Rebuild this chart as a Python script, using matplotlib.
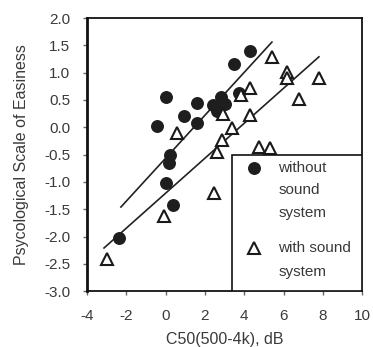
#!/usr/bin/env python3

from matplotlib import pyplot as pl
from matplotlib.patches import Rectangle

pl.rcParams['font.family'] = ['Liberation Sans', 'DejaVu Sans']

# without sound system (filled circles)
c50_without = [0.0, -0.45, 0.95, 1.6, 1.6, 0.25, 0.2, 0.0, 0.4, -2.35,
               2.4, 2.8, 3.0, 2.6, 3.75, 3.5, 4.3]
pse_without = [0.55, 0.02, 0.2, 0.45, 0.08, -0.5, -0.65, -1.02, -1.42, -2.03,
               0.4, 0.55, 0.42, 0.3, 0.62, 1.15, 1.4]

# with sound system (open triangles)
c50_with = [-3.0, -0.1, 2.45, 0.6, 2.85, 2.6, 2.9, 3.4, 4.3, 3.85, 4.3,
            5.4, 6.2, 6.2, 7.8, 6.8, 4.75, 5.3]
pse_with = [-2.42, -1.62, -1.2, -0.1, -0.23, -0.45, 0.25, -0.02, 0.22, 0.6, 0.72,
            1.28, 1.02, 0.9, 0.9, 0.52, -0.37, -0.38]

# regression lines (end points)
fit_without_x = [-2.27, 5.41]
fit_without_y = [-1.46, 1.56]
fit_with_x = [-3.13, 7.8]
fit_with_y = [-2.21, 1.29]

xticks = [-4, -2, 0, 2, 4, 6, 8, 10]
yticks = [-3.0, -2.5, -2.0, -1.5, -1.0, -0.5, 0.0, 0.5, 1.0, 1.5, 2.0]

legend_lines = [['without', 'sound', 'system'], ['with sound', 'system']]

txt = '#3a3a3a'
fs = 11.5

fig = pl.figure(figsize=(3.73, 3.47), dpi=100)
ax = fig.add_axes([0.233, 0.161, 0.738, 0.787])

ax.plot(fit_without_x, fit_without_y, color='#222222', lw=1.2, zorder=2)
ax.plot(fit_with_x, fit_with_y, color='#222222', lw=1.2, zorder=2)

circ = dict(marker='o', ls='none', color='#1e1e1e', ms=8.3)
tri = dict(marker='^', ls='none', mfc='white', mec='#1a1a1a', mew=1.5, ms=8)

ax.plot(c50_without, pse_without, zorder=3, **circ)
ax.plot(c50_with, pse_with, zorder=4, **tri)

ax.set_xlim(-4, 10)
ax.set_ylim(-3, 2)
ax.set_xticks(xticks)
ax.set_yticks(yticks)
ax.set_xticklabels([str(t) for t in xticks])
ax.set_yticklabels(['%.1f' % t for t in yticks])
ax.tick_params(direction='out', length=3, width=1, colors='#666666',
               labelsize=fs - 0.5, labelcolor=txt)
ax.tick_params(axis='y', pad=9)
ax.tick_params(axis='x', pad=10)

for s in ax.spines.values():
    s.set_linewidth(1.3)
    s.set_color('#111111')
ax.spines['left'].set_linewidth(2)

ax.set_xlabel('C50(500-4k), dB', fontsize=fs, color=txt, labelpad=6)
ax.set_ylabel('Psycological Scale of Easiness', fontsize=fs, color=txt,
              labelpad=11)

# legend box in lower right, drawn by hand
ax.add_patch(Rectangle((0.527, 0.0), 0.473, 0.498, transform=ax.transAxes,
                       facecolor='white', edgecolor='#111111',
                       lw=1.2, zorder=5))
ax.plot([0.607], [0.451], transform=ax.transAxes, zorder=6, clip_on=False,
        **circ)
ax.plot([0.607], [0.158], transform=ax.transAxes, zorder=6, clip_on=False,
        **tri)
ys = [[0.451, 0.370, 0.286], [0.158, 0.070]]
for lines, yy in zip(legend_lines, ys):
    for s, y in zip(lines, yy):
        ax.text(0.695, y, s, transform=ax.transAxes, fontsize=fs - 0.5,
                color=txt, va='center', ha='left', zorder=6)

fig.savefig('out.png', dpi=100)
